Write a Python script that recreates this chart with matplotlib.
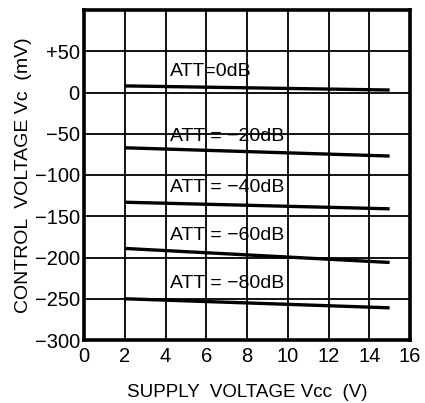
import matplotlib.pyplot as plt

# supply voltage endpoints (V) and control voltage (mV) per attenuation
vcc = [2, 15]
att_labels = ["ATT=0dB", "ATT = −20dB", "ATT = −40dB", "ATT = −60dB", "ATT = −80dB"]
vc_0db = [8, 3]
vc_20db = [-67, -77]
vc_40db = [-133, -141]
vc_60db = [-189, -206]
vc_80db = [-250, -261]
label_y = [25, -53, -115, -173, -232]

yticks = [50, 0, -50, -100, -150, -200, -250, -300]
ytick_labels = ["+50", "0", "−50", "−100", "−150", "−200", "−250", "−300"]
xticks = [0, 2, 4, 6, 8, 10, 12, 14, 16]

plt.rcParams['font.family'] = ['Liberation Sans', 'DejaVu Sans']

fig = plt.figure(figsize=(4.25, 4.03), dpi=100)
ax = fig.add_axes([84 / 425, 63 / 403, 326 / 425, 330 / 403])

series = [vc_0db, vc_20db, vc_40db, vc_60db, vc_80db]
for vals in series:
    ax.plot(vcc, vals, color='black', lw=2.4, solid_capstyle='butt')

for lab, y in zip(att_labels, label_y):
    ax.text(4.2, y, lab, fontsize=14, va='center', ha='left')

ax.set_xlim(0, 16)
ax.set_ylim(-300, 100)
ax.set_xticks(xticks)
ax.set_yticks(yticks)
ax.set_yticklabels(ytick_labels)
ax.grid(True, color='black', lw=1.3)
ax.tick_params(length=0, labelsize=14.5, pad=3)
ax.tick_params(axis='x', pad=5)
for s in ax.spines.values():
    s.set_linewidth(2.6)

ax.set_xlabel("SUPPLY  VOLTAGE Vcc  (V)", fontsize=13.5, labelpad=13)
ax.set_ylabel("CONTROL  VOLTAGE Vc  (mV)", fontsize=14, labelpad=2)

fig.savefig("out.png", dpi=100)
